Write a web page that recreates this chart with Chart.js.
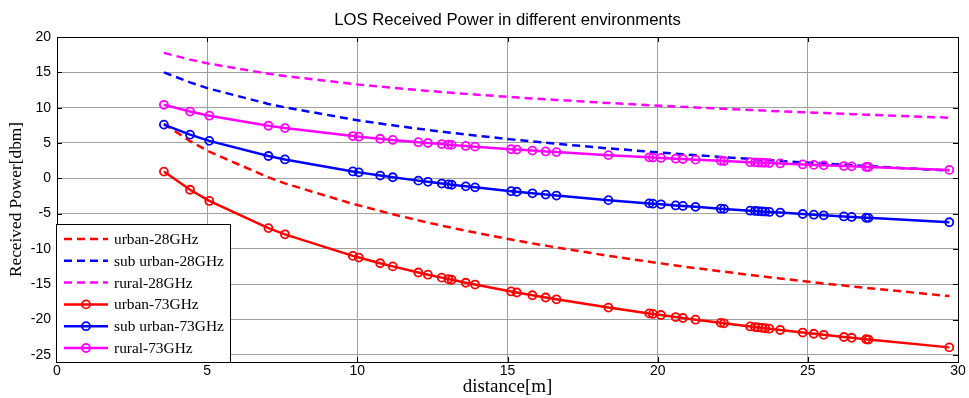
<!DOCTYPE html>
<html>
<head>
<meta charset="utf-8">
<script src="https://cdn.jsdelivr.net/npm/chart.js@4.4.1/dist/chart.umd.min.js"></script>
<style>
  html, body { margin: 0; padding: 0; background: #ffffff; }
  #wrap { position: relative; width: 969px; height: 398px; }
</style>
</head>
<body>
<div id="wrap"><canvas id="c" width="969" height="398"></canvas></div>
<script>
const chartTitle = "LOS Received Power in different environments";
const xTitle = "distance[m]";
const yTitle = "Received Power[dbm]";
const xTicks = [0, 5, 10, 15, 20, 25, 30];
const yTicks = [-25, -20, -15, -10, -5, 0, 5, 10, 15, 20];

const distance = [3.56, 4.43, 5.07, 7.04, 7.59, 9.85, 10.05, 10.76, 11.18, 12.03, 12.35, 12.81, 13.03, 13.14, 13.61, 13.92, 15.12, 15.31, 15.83, 16.27, 16.63, 18.36, 19.72, 19.84, 20.11, 20.6, 20.84, 21.26, 22.1, 22.21, 23.08, 23.24, 23.35, 23.47, 23.58, 23.72, 24.08, 24.83, 25.2, 25.53, 26.2, 26.46, 26.94, 27.02, 29.71];

const urban28 = [7.70, 5.27, 3.77, 0.12, -0.72, -3.62, -3.83, -4.63, -5.08, -5.95, -6.27, -6.70, -6.90, -7.00, -7.42, -7.68, -8.67, -8.81, -9.21, -9.53, -9.79, -10.97, -11.81, -11.88, -12.04, -12.33, -12.47, -12.71, -13.16, -13.22, -13.68, -13.76, -13.82, -13.88, -13.93, -14.00, -14.18, -14.55, -14.72, -14.88, -15.18, -15.30, -15.51, -15.55, -16.67];
const suburban28 = [15.00, 13.57, 12.68, 10.53, 10.04, 8.33, 8.19, 7.75, 7.50, 7.01, 6.84, 6.60, 6.49, 6.44, 6.20, 6.06, 5.51, 5.43, 5.21, 5.03, 4.89, 4.24, 3.77, 3.73, 3.64, 3.49, 3.41, 3.28, 3.03, 2.99, 2.74, 2.70, 2.66, 2.63, 2.60, 2.56, 2.46, 2.26, 2.16, 2.08, 1.91, 1.84, 1.73, 1.71, 1.09];
const rural28 = [17.75, 16.80, 16.22, 14.80, 14.48, 13.35, 13.26, 12.97, 12.80, 12.49, 12.37, 12.22, 12.14, 12.11, 11.95, 11.86, 11.50, 11.45, 11.30, 11.18, 11.09, 10.66, 10.35, 10.33, 10.27, 10.16, 10.11, 10.03, 9.86, 9.84, 9.67, 9.64, 9.62, 9.60, 9.58, 9.55, 9.49, 9.36, 9.29, 9.24, 9.12, 9.08, 9.00, 8.99, 8.58];
const urban73 = [0.95, -1.62, -3.20, -7.05, -7.93, -10.98, -11.22, -12.02, -12.47, -13.33, -13.64, -14.06, -14.26, -14.36, -14.78, -15.04, -16.01, -16.16, -16.55, -16.87, -17.13, -18.29, -19.12, -19.20, -19.35, -19.64, -19.77, -20.01, -20.46, -20.52, -20.97, -21.05, -21.11, -21.17, -21.22, -21.29, -21.47, -21.83, -22.00, -22.15, -22.46, -22.57, -22.78, -22.82, -23.93];
const suburban73 = [7.60, 6.18, 5.30, 3.16, 2.67, 0.97, 0.84, 0.39, 0.15, -0.33, -0.50, -0.74, -0.85, -0.91, -1.14, -1.28, -1.82, -1.90, -2.12, -2.30, -2.44, -3.09, -3.55, -3.59, -3.68, -3.84, -3.91, -4.04, -4.30, -4.33, -4.58, -4.62, -4.65, -4.69, -4.72, -4.76, -4.85, -5.05, -5.15, -5.24, -5.40, -5.47, -5.58, -5.60, -6.22];
const rural73 = [10.40, 9.45, 8.86, 7.44, 7.11, 5.98, 5.89, 5.60, 5.43, 5.11, 5.00, 4.84, 4.76, 4.73, 4.58, 4.48, 4.12, 4.06, 3.92, 3.80, 3.71, 3.28, 2.97, 2.94, 2.88, 2.78, 2.73, 2.64, 2.47, 2.45, 2.28, 2.25, 2.23, 2.21, 2.19, 2.16, 2.10, 1.96, 1.90, 1.84, 1.73, 1.69, 1.61, 1.60, 1.19];

const seriesLabels = ["urban-28GHz", "sub urban-28GHz", "rural-28GHz", "urban-73GHz", "sub urban-73GHz", "rural-73GHz"];
const seriesValues = [urban28, suburban28, rural28, urban73, suburban73, rural73];
const seriesColors = ["#ff0000", "#0000ff", "#ff00ff", "#ff0000", "#0000ff", "#ff00ff"];
const seriesDashed = [true, true, true, false, false, false];

const datasets = seriesValues.map((vals, i) => ({
  label: seriesLabels[i],
  data: vals.map((v, k) => ({ x: distance[k], y: v })),
  borderColor: seriesColors[i],
  backgroundColor: seriesColors[i],
  borderWidth: 2.5,
  borderDash: seriesDashed[i] ? [8, 5] : [],
  pointRadius: seriesDashed[i] ? 0 : 4,
  pointHoverRadius: seriesDashed[i] ? 0 : 4,
  pointBorderWidth: 1.8,
  pointBorderColor: seriesColors[i],
  pointBackgroundColor: "rgba(0,0,0,0)",
  tension: 0,
  fill: false,
  order: 6 - i
}));

const framePlugin = {
  id: "frame",
  afterDraw(chart) {
    const ctx = chart.ctx;
    const a = chart.chartArea;
    const xs = chart.scales.x, ys = chart.scales.y;
    ctx.save();
    ctx.strokeStyle = "#000";
    ctx.lineWidth = 1;
    ctx.setLineDash([]);
    xTicks.forEach(v => {
      const px = Math.round(xs.getPixelForValue(v)) + 0.5;
      ctx.beginPath();
      ctx.moveTo(px, a.bottom); ctx.lineTo(px, a.bottom - 5);
      ctx.moveTo(px, a.top); ctx.lineTo(px, a.top + 5);
      ctx.stroke();
    });
    yTicks.forEach(v => {
      const py = Math.round(ys.getPixelForValue(v)) + 0.5;
      ctx.beginPath();
      ctx.moveTo(a.left, py); ctx.lineTo(a.left + 5, py);
      ctx.moveTo(a.right, py); ctx.lineTo(a.right - 5, py);
      ctx.stroke();
    });
    ctx.strokeRect(Math.round(a.left) + 0.5, Math.round(a.top) + 0.5, Math.round(a.right - a.left), Math.round(a.bottom - a.top));

    ctx.fillStyle = "#000";
    ctx.font = '16.7px "Liberation Sans", Arial, sans-serif';
    ctx.textAlign = "center";
    ctx.textBaseline = "middle";
    ctx.fillText(chartTitle, (a.left + a.right) / 2, 20);

    const lx = 56, ly = 224, lw = 174, lh = 138;
    ctx.fillStyle = "#fff";
    ctx.fillRect(lx, ly, lw, lh);
    ctx.strokeStyle = "#000";
    ctx.lineWidth = 1;
    ctx.strokeRect(lx + 0.5, ly + 0.5, lw, lh);
    chart.data.datasets.forEach((ds, i) => {
      const yy = 239 + i * 21.8;
      ctx.strokeStyle = ds.borderColor;
      ctx.lineWidth = 2.5;
      ctx.setLineDash(ds.borderDash || []);
      ctx.beginPath();
      ctx.moveTo(64, yy); ctx.lineTo(108, yy);
      ctx.stroke();
      ctx.setLineDash([]);
      if (ds.pointRadius > 0) {
        ctx.lineWidth = 1.8;
        ctx.beginPath();
        ctx.arc(86, yy, 4, 0, Math.PI * 2);
        ctx.stroke();
      }
      ctx.fillStyle = "#000";
      ctx.font = '15.4px "Liberation Serif", "Times New Roman", serif';
      ctx.textAlign = "left";
      ctx.textBaseline = "middle";
      ctx.fillText(ds.label, 114, yy + 1);
    });
    ctx.restore();
  }
};

new Chart(document.getElementById("c"), {
  type: "line",
  data: { datasets },
  options: {
    responsive: false,
    animation: false,
    layout: { padding: { top: 37, right: 11, left: 0, bottom: 0 } },
    plugins: { legend: { display: false }, title: { display: false }, tooltip: { enabled: false } },
    scales: {
      x: {
        type: "linear",
        min: 0, max: 30,
        afterBuildTicks: s => { s.ticks = xTicks.map(v => ({ value: v })); },
        afterFit: s => { s.height = 36; },
        grid: { color: "#a0a0a0", lineWidth: 1, drawTicks: false },
        border: { display: true, color: "#000" },
        ticks: { color: "#000", padding: 1, font: { family: '"Liberation Sans", Arial, sans-serif', size: 14 }, maxRotation: 0 },
        title: { display: true, text: xTitle, color: "#000", padding: { top: 0, bottom: 0 }, font: { family: '"Liberation Serif", "Times New Roman", serif', size: 19 } }
      },
      y: {
        type: "linear",
        min: -26, max: 20,
        afterBuildTicks: s => { s.ticks = yTicks.map(v => ({ value: v })); },
        afterFit: s => { s.width = 57; },
        grid: { color: "#a0a0a0", lineWidth: 1, drawTicks: false },
        border: { display: true, color: "#000" },
        ticks: { color: "#000", padding: 6, font: { family: '"Liberation Sans", Arial, sans-serif', size: 14 } },
        title: { display: true, text: yTitle, color: "#000", padding: { top: 6, bottom: 0 }, font: { family: '"Liberation Serif", "Times New Roman", serif', size: 17.3 } }
      }
    }
  },
  plugins: [framePlugin]
});
</script>
</body>
</html>
